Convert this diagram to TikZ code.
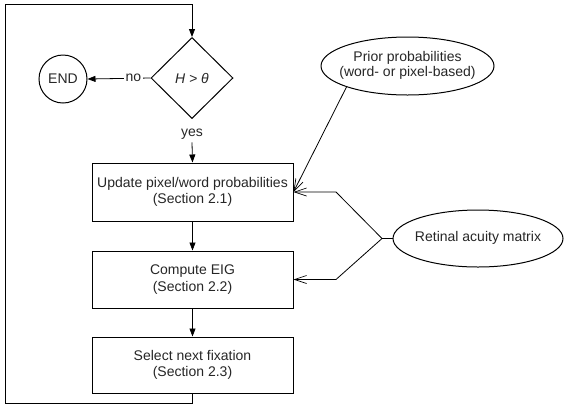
\documentclass[tikz,border=0pt]{standalone}
\usepackage{fontspec}
\setmainfont{Liberation Sans}
\usetikzlibrary{shapes.geometric,arrows.meta}
\newcommand{\fixedtext}[1]{\makebox[0pt]{\begin{tabular}{@{}c@{}}#1\end{tabular}}}
\begin{document}
\begin{tikzpicture}[x=1pt,y=-1pt,
  font=\fontsize{14}{16.5}\selectfont,
  every node/.style={inner sep=0pt, text=black!85},
  flow/.tip={Triangle[length=8pt,width=6pt]},
  open/.tip={Straight Barb[length=12pt,width=8pt,line width=0.7pt]},
  box/.style={draw, line width=1pt, minimum width=201pt, align=center},
  ell/.style={draw, ellipse, line width=1pt},
  ln/.style={line width=0.8pt}]
\useasboundingbox (0,0) rectangle (564,405);
\renewcommand{\arraystretch}{0.85}
\node[draw, diamond, line width=1pt, minimum width=82pt, minimum height=81pt] (dec) at (192,78) {\itshape H > θ};
\node[draw, circle, line width=1pt, minimum size=48pt] (end) at (63,79) {END};
\node (yes) at (192,134) {yes};
\node[box, minimum height=58pt] (upd) at (192.5,192) {Update pixel/word probabilities\\(Section 2.1)};
\node[box, minimum height=57pt] (eig) at (192.5,279.5) {Compute EIG\\(Section 2.2)};
\node[box, minimum height=56pt] (sel) at (192.5,365) {Select next fixation\\(Section 2.3)};
\node[ell, minimum width=173pt, minimum height=58pt] (prior) at (407.5,66) {\fixedtext{Prior probabilities\\(word- or pixel-based)}};
\node[ell, minimum width=170pt, minimum height=57pt] (ret) at (478,238.5) {\fixedtext{Retinal acuity matrix}};
\coordinate (c1) at (192.5,403);
\coordinate (c2) at (5,403);
\coordinate (c3) at (5,4);
\coordinate (c4) at (192,4);
\coordinate (j) at (382,238.5);
\coordinate (ju) at (336,192);
\coordinate (jl) at (336,279.5);
\draw[ln] (sel.south) -- (c1) -- (c2) -- (c3) -- (c4);
\draw[ln,-flow] (c4) -- (dec.north);
\draw[ln,-flow] (dec.west) -- node[pos=0.27, fill=white, inner xsep=2pt] {no} (end.east);
\draw[ln,-flow] (yes.south) ++(0,3) -- (upd.north);
\draw[ln,-flow] (upd.south) -- (eig.north);
\draw[ln,-flow] (eig.south) -- (sel.north);
\draw[ln,-open] (prior.199) -- (upd.east);
\draw[ln] (ret.west) -- (j);
\draw[ln,-open] (j) -- (ju) -- (upd.east);
\draw[ln,-open] (j) -- (jl) -- (eig.east);
\end{tikzpicture}
\end{document}
